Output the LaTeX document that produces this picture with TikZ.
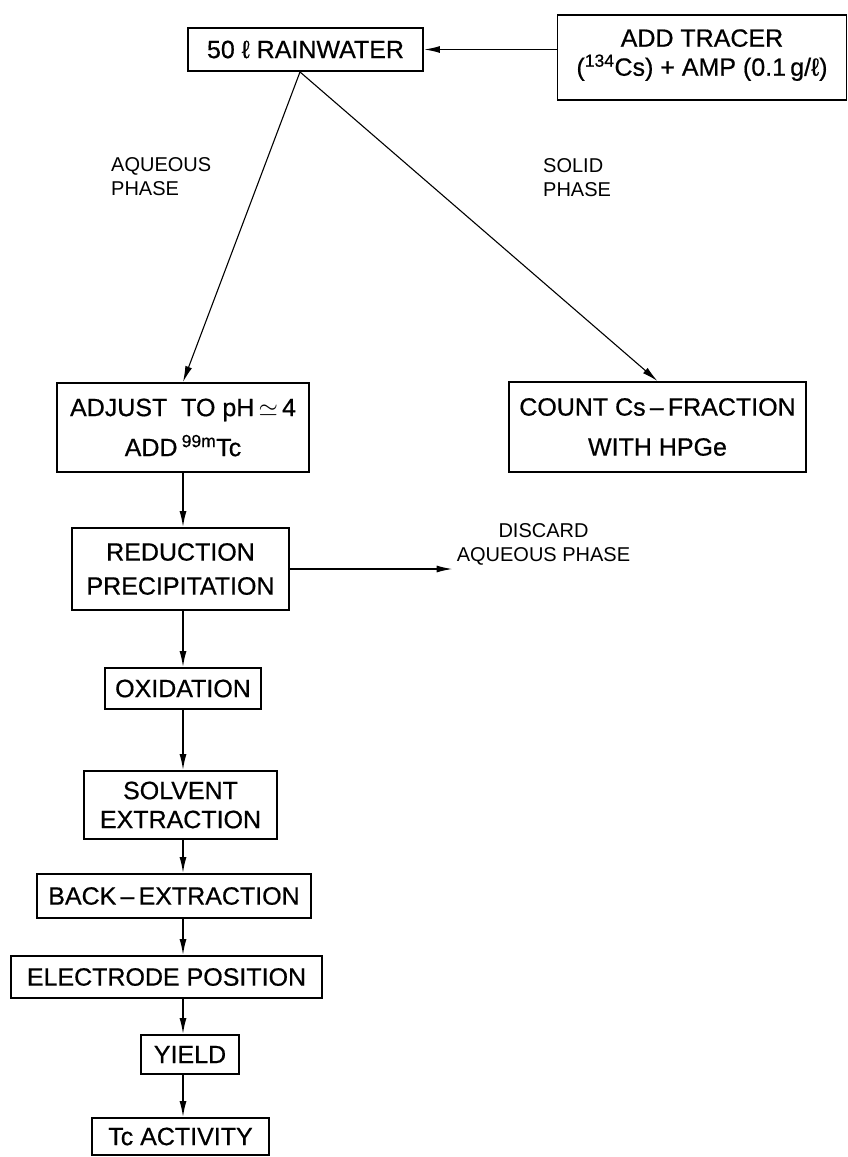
\documentclass[tikz,border=0pt]{standalone}
\usepackage{fontspec}
\setmainfont{Liberation Sans}[FakeBold=0.6]
\newfontfamily\labfont{Liberation Sans}
\usetikzlibrary{arrows.meta}
\begin{document}
\begin{tikzpicture}[x=1pt,y=-1pt,
  box/.style={draw,line width=1.9pt,inner sep=0pt,align=center,font=\fontsize{25}{29}\selectfont},
  arr/.style={line width=1.5pt,-{Latex[length=16pt,width=7pt]}},
  diag/.style={line width=1.1pt,-{Latex[length=16pt,width=7pt]}},
  lab/.style={align=left,font=\labfont\fontsize{20}{24}\selectfont,inner sep=0pt}]
\useasboundingbox (0,0) rectangle (848,1157);
\coordinate (spine) at (183,0);

\node[box,minimum width=235pt,minimum height=43pt] (rain) at (305.5,49.5) {50 ℓ RAINWATER};
\node[box,minimum width=289pt,minimum height=85pt,text depth=10pt] (tracer) at (702,57.5)
  {ADD TRACER\\(\textsuperscript{134}Cs) + AMP (0.1\,g/ℓ)};
\node[box,minimum width=252pt,minimum height=89pt,font=\fontsize{25}{40}\selectfont] (adj) at (183,427.5)
  {ADJUST \ TO pH$\,\simeq\,$4\\ADD\,\textsuperscript{99m}Tc};
\node[box,minimum width=297pt,minimum height=90pt,font=\fontsize{25}{40}\selectfont] (count) at (657.5,427)
  {COUNT Cs\,\textendash\,FRACTION\\WITH HPGe};
\node[box,minimum width=217pt,minimum height=82pt,font=\fontsize{25}{34}\selectfont] (red) at (180.5,569)
  {REDUCTION\\PRECIPITATION};
\node[box,minimum width=156pt,minimum height=41pt] (oxi) at (183,688.5) {OXIDATION};
\node[box,minimum width=193pt,minimum height=68pt] (solv) at (180.5,805) {SOLVENT\\EXTRACTION};
\node[box,minimum width=274pt,minimum height=44pt] (back) at (174,896) {BACK\,\textendash\,EXTRACTION};
\node[box,minimum width=311pt,minimum height=42pt] (elec) at (166.5,977) {ELECTRODE POSITION};
\node[box,minimum width=98pt,minimum height=39pt] (yield) at (190,1054.5) {YIELD};
\node[box,minimum width=177pt,minimum height=37pt] (tc) at (180.5,1136.5) {Tc ACTIVITY};

\node[lab,anchor=base west] (aqlab) at (111,195) {AQUEOUS\\PHASE};
\node[lab,anchor=base west] (sollab) at (543,196) {SOLID\\PHASE};
\node[lab,align=center,anchor=base] (discard) at (543.5,561) {DISCARD\\AQUEOUS PHASE};

\draw[arr] (tracer.west |- rain.east) -- (rain.east);
\draw[diag] ([xshift=-5.5pt]rain.south) -- (adj.north);
\draw[diag] ([xshift=-5.5pt]rain.south) -- (count.north);
\draw[arr,shorten >=4pt] (red.east) -- (red.east -| discard.west);

\draw[arr] (spine |- adj.south) -- (spine |- red.north);
\draw[arr] (spine |- red.south) -- (spine |- oxi.north);
\draw[arr] (spine |- oxi.south) -- (spine |- solv.north);
\draw[arr] (spine |- solv.south) -- (spine |- back.north);
\draw[arr] (spine |- back.south) -- (spine |- elec.north);
\draw[arr] (spine |- elec.south) -- (spine |- yield.north);
\draw[arr] (spine |- yield.south) -- (spine |- tc.north);
\end{tikzpicture}
\end{document}
